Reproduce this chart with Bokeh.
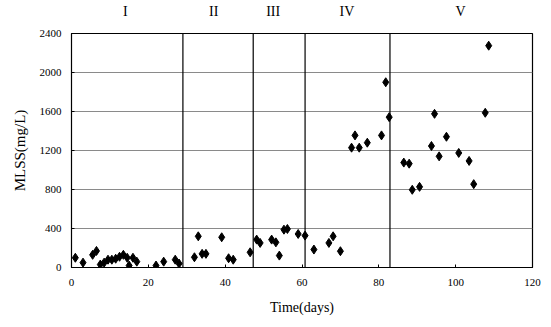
from bokeh.plotting import figure
from bokeh.models import Range1d, FixedTicker, LinearAxis, Span, ColumnDataSource
from bokeh.embed import file_html
from bokeh.resources import INLINE

# ---- data ----
day = [1, 3, 5.5, 6.5, 7.5, 8.5, 9.5, 10.5, 11.5, 12.5, 13.5, 14.5, 15, 16, 17, 22, 24, 27, 28,
       32, 33, 34, 35, 39.1, 40.9, 42.1, 46.5,
       48.2, 49.1, 52.1, 53.2, 54.1, 55.3, 56.2, 59,
       60.8, 63.1, 67, 68.1, 70, 72.9, 73.8, 74.9, 77, 80.7, 81.8, 82.7,
       86.5, 87.9, 88.7, 90.6, 93.7, 94.5, 95.7, 97.6, 100.8, 103.5, 104.7, 107.7, 108.6]
mlss = [100, 50, 130, 170, 30, 50, 80, 80, 90, 110, 130, 100, 20, 100, 60, 20, 60, 80, 40,
        105, 320, 140, 140, 310, 95, 80, 156,
        286, 252, 286, 258, 122, 388, 395, 344,
        327, 184, 252, 320, 167, 1229, 1355, 1229, 1280, 1355, 1900, 1542,
        1076, 1065, 797, 827, 1246, 1576, 1140, 1341, 1175, 1093, 855, 1587, 2275]
phase_names = ["I", "II", "III", "IV", "V"]
phase_centers = [14, 37, 52.5, 71.7, 101.3]
phase_bounds = [29, 47.3, 60.8, 82.9]
x_ticks = [0, 20, 40, 60, 80, 100, 120]
y_ticks = [0, 400, 800, 1200, 1600, 2000, 2400]

FONT = "Liberation Serif"

p = figure(width=551, height=327, output_backend="svg", toolbar_location=None,
           x_range=Range1d(0, 120), y_range=Range1d(0, 2400),
           min_border_left=71, min_border_right=19, min_border_top=32, min_border_bottom=60)
p.background_fill_color = "white"
p.border_fill_color = "white"
p.outline_line_color = "black"
p.outline_line_width = 1.2

src = ColumnDataSource(dict(x=day, y=mlss))
p.scatter("x", "y", source=src, marker="diamond", size=9, color="black")

# axes
for ax in (p.xaxis[0], p.yaxis[0]):
    ax.axis_line_color = "black"
    ax.major_tick_line_color = "black"
    ax.major_tick_in = 3
    ax.major_tick_out = 0
    ax.minor_tick_line_color = None
    ax.major_label_text_font = FONT
    ax.major_label_text_font_size = "11px"
    ax.major_label_text_color = "black"
    ax.axis_label_text_font = FONT
    ax.axis_label_text_font_style = "normal"
    ax.axis_label_text_color = "black"

p.xaxis.ticker = FixedTicker(ticks=x_ticks)
p.yaxis.ticker = FixedTicker(ticks=y_ticks)
p.xaxis.axis_label = "Time(days)"
p.yaxis.axis_label = "MLSS(mg/L)"
p.xaxis.axis_label_text_font_size = "14px"
p.yaxis.axis_label_text_font_size = "15px"
p.xaxis.major_label_standoff = 11
p.yaxis.major_label_standoff = 10
p.xaxis.axis_label_standoff = 11
p.yaxis.axis_label_standoff = 9

p.xgrid.grid_line_color = None
p.ygrid.ticker = FixedTicker(ticks=y_ticks)
p.ygrid.grid_line_color = "#8a8a8a"
p.ygrid.grid_line_width = 1

# phase labels
top = LinearAxis(ticker=FixedTicker(ticks=phase_centers),
                 major_label_overrides={c: n for c, n in zip(phase_centers, phase_names)},
                 axis_line_color=None, major_tick_line_color=None, minor_tick_line_color=None,
                 major_label_text_font=FONT, major_label_text_font_size="14px",
                 major_label_text_color="black", major_label_standoff=9)
p.add_layout(top, "above")

for b in phase_bounds:
    p.add_layout(Span(location=b, dimension="height", line_color="black", line_width=1.2))

open("out.html", "w").write(file_html(p, INLINE))
